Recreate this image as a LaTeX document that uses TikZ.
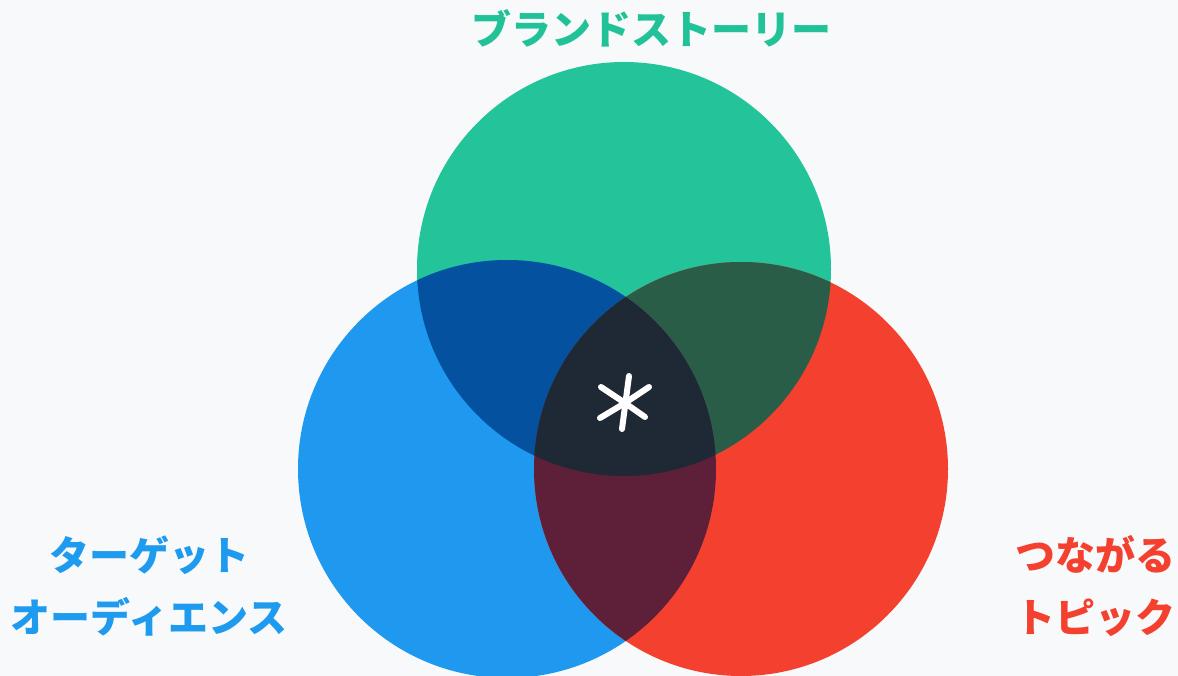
\documentclass[tikz,border=0pt]{standalone}
\usepackage{fontspec}
\newfontfamily\jp{Noto Sans CJK JP}
\definecolor{bgc}{HTML}{F8F9FA}
\definecolor{cgreen}{HTML}{23C49A}
\definecolor{cblue}{HTML}{1E99EF}
\definecolor{cred}{HTML}{F4412F}
\definecolor{cgb}{HTML}{03519F}
\definecolor{cgr}{HTML}{2A5D47}
\definecolor{cbr}{HTML}{5E1F38}
\definecolor{cmid}{HTML}{1F2936}
\definecolor{tgreen}{HTML}{22C299}
\definecolor{tblue}{HTML}{1E9BEF}
\definecolor{tred}{HTML}{F4402E}
\tikzset{
  lbl/.style={font=\jp\bfseries\fontsize{40}{62}\selectfont, inner sep=0pt, align=center},
  star/.style={draw=white, line width=6pt, line cap=round}
}
\begin{document}
\begin{tikzpicture}[x=1pt,y=-1pt]
\fill[bgc] (0,0) rectangle (1178,676);
\useasboundingbox (0,0) rectangle (1178,676);
\coordinate (G) at (624,269);
\coordinate (B) at (507,469);
\coordinate (R) at (741,469);
\def\rG{207pt}\def\rB{209pt}\def\rR{207pt}
\begin{scope}
\clip (0,0) rectangle (1178,676);
\fill[cgreen] (G) circle[radius=\rG];
\fill[cblue] (B) circle[radius=\rB];
\fill[cred] (R) circle[radius=\rR];
\begin{scope}
  \clip (G) circle[radius=\rG];
  \fill[cgb] (B) circle[radius=\rB];
  \fill[cgr] (R) circle[radius=\rR];
\end{scope}
\begin{scope}
  \clip (B) circle[radius=\rB];
  \fill[cbr] (R) circle[radius=\rR];
  \clip (R) circle[radius=\rR];
  \fill[cmid] (G) circle[radius=\rG];
\end{scope}
\end{scope}
% asterisk
\coordinate (sc) at (625,403);
\coordinate (s1) at (629,376);
\coordinate (s2) at (622,429);
\coordinate (s3) at (601,387);
\coordinate (s4) at (645,417);
\coordinate (s5) at (649,387);
\coordinate (s6) at (600,418);
\draw[star] (s1) -- (s2);
\draw[star] (s3) -- (sc) -- (s4);
\draw[star] (s5) -- (sc) -- (s6);
% labels
\node[lbl, text=tgreen] (title) at (651,28) {ブランドストーリー};
\node[lbl, text=tblue] (left) at (149,586) {ターゲット\\オーディエンス};
\node[lbl, text=tred] (right) at (1095,586) {つながる\\トピック};
\end{tikzpicture}
\end{document}
